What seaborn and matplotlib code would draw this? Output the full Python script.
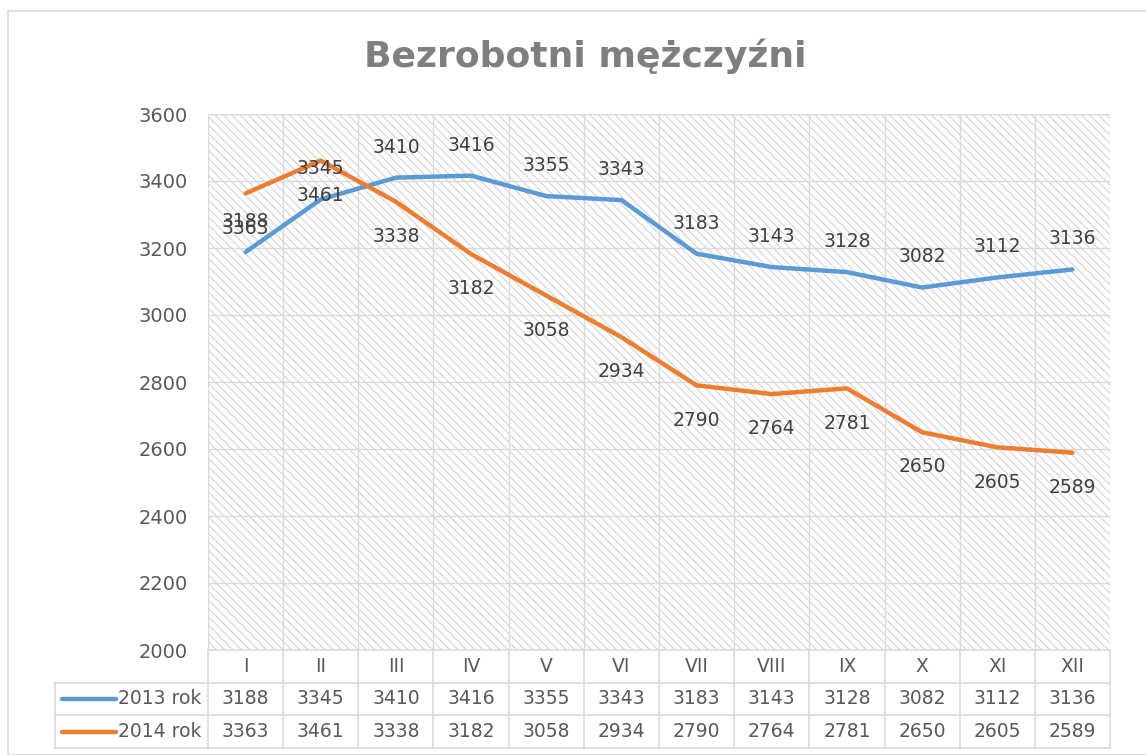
import matplotlib
matplotlib.use("Agg")
import matplotlib.pyplot as plt
from matplotlib.patches import Rectangle
import seaborn as sns
import pandas as pd

months = ["I", "II", "III", "IV", "V", "VI", "VII", "VIII", "IX", "X", "XI", "XII"]
s2013 = [3188, 3345, 3410, 3416, 3355, 3343, 3183, 3143, 3128, 3082, 3112, 3136]
s2014 = [3363, 3461, 3338, 3182, 3058, 2934, 2790, 2764, 2781, 2650, 2605, 2589]
series_names = ["2013 rok", "2014 rok"]
title = "Bezrobotni mężczyźni"
yticks = [2000, 2200, 2400, 2600, 2800, 3000, 3200, 3400, 3600]

sns.set_theme(style="white")
plt.rcParams['font.family'] = ['DejaVu Sans']
plt.rcParams['hatch.color'] = '#d4d4d4'
plt.rcParams['hatch.linewidth'] = 0.8

W, H = 1146, 755
fig = plt.figure(figsize=(W / 100, H / 100), dpi=100)
fig.patch.set_facecolor('white')

def px_axes(x0, y0, x1, y1):
    return fig.add_axes([x0 / W, 1 - y1 / H, (x1 - x0) / W, (y1 - y0) / H])

# outer border
fig.add_artist(Rectangle((8 / W, 0), 1.2, 1 - 11 / H, transform=fig.transFigure,
                         fill=False, edgecolor='#d9d9d9', lw=1.2))

colors = ['#5B9BD5', '#ED7D31']
txt = '#595959'
grid = '#d9d9d9'

ax = px_axes(208, 114, 1110, 650)
df = pd.DataFrame({"x": list(range(12)) * 2,
                   "y": s2013 + s2014,
                   "s": [series_names[0]] * 12 + [series_names[1]] * 12})
ax.add_patch(Rectangle((0, 0), 1, 1, transform=ax.transAxes, hatch='\\\\\\\\',
                       fill=False, edgecolor='#d4d4d4', lw=0, zorder=0))
sns.lineplot(data=df, x="x", y="y", hue="s", palette=colors, linewidth=3.2,
             ax=ax, legend=False, zorder=3)
ax.set_xlim(-0.5, 11.5)
ax.set_ylim(2000, 3600)
ax.set_yticks(yticks)
ax.set_yticklabels([str(v) for v in yticks], fontsize=14, color=txt)
ax.tick_params(axis='y', length=0, pad=14.5)
ax.set_xticks([])
ax.set_xlabel("")
ax.set_ylabel("")
for v in yticks:
    ax.axhline(v, color=grid, lw=1, zorder=1)
for k in range(13):
    ax.axvline(k - 0.5, color=grid, lw=1, zorder=1)
for sp in ax.spines.values():
    sp.set_visible(False)

for i in range(12):
    ax.annotate(str(s2013[i]), (i, s2013[i]), xytext=(0, 22), textcoords='offset points',
                ha='center', va='center', fontsize=13.5, color='#404040', zorder=4)
    ax.annotate(str(s2014[i]), (i, s2014[i]), xytext=(0, -25), textcoords='offset points',
                ha='center', va='center', fontsize=13.5, color='#404040', zorder=4)

fig.text(585 / W, 1 - 67 / H, title, ha='center', va='baseline', fontsize=26,
         fontweight='bold', color='#7f7f7f')

# data table
tb = px_axes(55, 650, 1110, 748)
step = 902 / 12
left = -0.5 - (208 - 55) / step
tb.set_xlim(left, 11.5)
tb.set_ylim(0, 3)
tb.axis('off')
lc = '#d9d9d9'
tb.plot([-0.5, 11.5], [3, 3], color=lc, lw=1.2, clip_on=False)
for yv in [2, 1, 0]:
    tb.plot([left, 11.5], [yv, yv], color=lc, lw=1.2, clip_on=False)
tb.plot([left, left], [0, 2], color=lc, lw=1.2, clip_on=False)
for k in range(13):
    tb.plot([k - 0.5, k - 0.5], [0, 3], color=lc, lw=1.2, clip_on=False)
for i, m in enumerate(months):
    tb.text(i, 2.5, m, ha='center', va='center', fontsize=13.5, color=txt)
    tb.text(i, 1.5, str(s2013[i]), ha='center', va='center', fontsize=13.5, color=txt)
    tb.text(i, 0.5, str(s2014[i]), ha='center', va='center', fontsize=13.5, color=txt)
for r, (name, c) in enumerate(zip(series_names, colors)):
    yv = 1.5 - r
    x0 = left + 7 / step
    x1 = left + 61 / step
    tb.plot([x0, x1], [yv, yv], color=c, lw=3.2, solid_capstyle='round')
    tb.text(x1 + 2 / step, yv, name, ha='left', va='center', fontsize=13.5, color=txt)

fig.savefig("out.png", dpi=100)
